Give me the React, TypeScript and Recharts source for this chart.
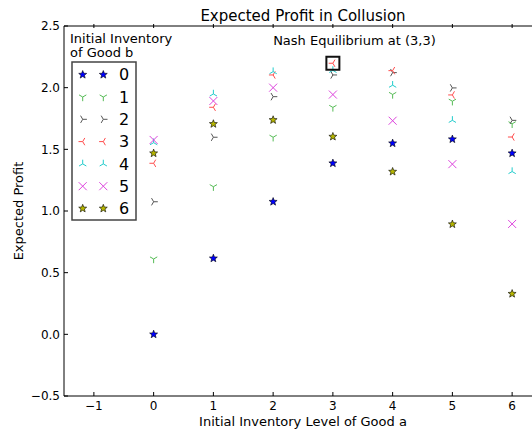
import { ScatterChart, Scatter, XAxis, YAxis, Legend, ReferenceDot } from 'recharts'

// initial inventory of good a (x) and expected profit for each inventory level of good b
const inventoryA = [0, 1, 2, 3, 4, 5, 6]
const profitB0 = [0.0, 0.616, 1.075, 1.387, 1.549, 1.582, 1.468]
const profitB1 = [0.611, 1.197, 1.598, 1.84, 1.945, 1.89, 1.707]
const profitB2 = [1.075, 1.598, 1.927, 2.103, 2.122, 1.998, 1.735]
const profitB3 = [1.387, 1.841, 2.103, 2.198, 2.138, 1.941, 1.6]
const profitB4 = [1.554, 1.949, 2.13, 2.14, 2.02, 1.735, 1.32]
const profitB5 = [1.576, 1.892, 2.0, 1.944, 1.732, 1.38, 0.895]
const profitB6 = [1.468, 1.706, 1.738, 1.603, 1.319, 0.893, 0.329]
const seriesLabels = ['0', '1', '2', '3', '4', '5', '6']

const xTicks = [-1, 0, 1, 2, 3, 4, 5, 6]
const yTicks = [-0.5, 0, 0.5, 1, 1.5, 2, 2.5]

const nashPoint = { x: 3, y: 2.198 }
const nashText = { x: 2, y: 2.35, label: 'Nash Equilibrium at (3,3)' }

const allSeries = [profitB0, profitB1, profitB2, profitB3, profitB4, profitB5, profitB6]

const markerStyles = [
  { kind: 'star', color: '#0000ff' },
  { kind: 'down', color: '#55bb55' },
  { kind: 'right', color: '#555555' },
  { kind: 'left', color: '#ff4d4d' },
  { kind: 'up', color: '#22cccc' },
  { kind: 'x', color: '#dd44dd' },
  { kind: 'star', color: '#b5b500' },
]

const FONT = "'DejaVu Sans', sans-serif"
const minus = (s: string) => s.replace('-', '\u2212')

function Marker({ kind, cx, cy, color }: { kind: string; cx: number; cy: number; color: string }) {
  if (cx == null || cy == null) return null
  if (kind === 'star') {
    const pts: string[] = []
    for (let i = 0; i < 10; i++) {
      const r = i % 2 === 0 ? 4.2 : 1.8
      const a = -Math.PI / 2 + (i * Math.PI) / 5
      pts.push(`${cx + r * Math.cos(a)},${cy + r * Math.sin(a)}`)
    }
    return <polygon points={pts.join(' ')} fill={color} stroke="#000" strokeWidth={0.6} />
  }
  if (kind === 'x') {
    const s = 4
    return (
      <path
        d={`M${cx - s},${cy - s}L${cx + s},${cy + s}M${cx - s},${cy + s}L${cx + s},${cy - s}`}
        stroke={color}
        strokeWidth={1}
      />
    )
  }
  const stemDeg: Record<string, number> = { down: 90, up: -90, left: 180, right: 0 }
  const base = stemDeg[kind]
  const r = 4.2
  const d = [base, base + 120, base - 120]
    .map((deg) => {
      const a = (deg * Math.PI) / 180
      return `M${cx},${cy}L${cx + r * Math.cos(a)},${cy + r * Math.sin(a)}`
    })
    .join('')
  return <path d={d} stroke={color} strokeWidth={1} fill="none" />
}

const BottomTick = (props: any) => {
  const { x, y, payload } = props
  const axisY = y - 4
  return (
    <g>
      <line x1={x} y1={axisY} x2={x} y2={axisY - 4} stroke="#000" />
      <text x={x} y={y} dy="0.8em" textAnchor="middle" fontSize={12} fill="#000" fontFamily={FONT}>
        {minus(String(payload.value))}
      </text>
    </g>
  )
}

const TopTick = (props: any) => {
  const { x, y } = props
  return <line x1={x} y1={y} x2={x} y2={y + 4} stroke="#000" />
}

const LeftTick = (props: any) => {
  const { x, y, payload } = props
  const axisX = x + 4
  return (
    <g>
      <line x1={axisX} y1={y} x2={axisX + 4} y2={y} stroke="#000" />
      <text x={x} y={y} dy="0.35em" textAnchor="end" fontSize={12} fill="#000" fontFamily={FONT}>
        {minus(Number(payload.value).toFixed(1))}
      </text>
    </g>
  )
}

function LegendBox() {
  return (
    <svg width={140} height={200} style={{ display: 'block', fontFamily: FONT }}>
      <text x={6} y={16.5} fontSize={13} fill="#000">Initial Inventory</text>
      <text x={6} y={30.5} fontSize={13} fill="#000">of Good b</text>
      <rect x={8} y={36} width={64} height={158} fill="#fff" stroke="#444" strokeWidth={1.5} />
      {markerStyles.map((m, i) => {
        const cy = 48.7 + 22.3 * i
        return (
          <g key={i}>
            <Marker kind={m.kind} cx={18.7} cy={cy} color={m.color} />
            <Marker kind={m.kind} cx={39.3} cy={cy} color={m.color} />
            <text x={55} y={cy} dy="0.36em" fontSize={16} fill="#000">
              {seriesLabels[i]}
            </text>
          </g>
        )
      })}
    </svg>
  )
}

export default function App() {
  return (
    <div style={{ width: 532, height: 430, overflow: 'hidden', background: '#fff' }}>
      <style>{'body{margin:0;overflow:hidden}'}</style>
      <ScatterChart
        width={550}
        height={430}
        margin={{ top: 0, right: 8, bottom: 0, left: 0 }}
        style={{ fontFamily: FONT }}
      >
        <XAxis
          xAxisId="top"
          orientation="top"
          type="number"
          dataKey="x"
          domain={[-1.5, 6.5]}
          ticks={xTicks}
          height={26}
          tickSize={0}
          tick={<TopTick />}
          axisLine={{ stroke: '#000' }}
          tickLine={false}
          allowDataOverflow
          label={{ value: 'Expected Profit in Collusion', position: 'center', dy: 3, fontSize: 15, fill: '#000' }}
        />
        <XAxis
          xAxisId="bottom"
          type="number"
          dataKey="x"
          domain={[-1.5, 6.5]}
          ticks={xTicks}
          height={34}
          tickSize={0}
          tickMargin={4}
          tick={<BottomTick />}
          axisLine={{ stroke: '#000' }}
          tickLine={false}
          allowDataOverflow
          label={{ value: 'Initial Inventory Level of Good a', position: 'center', dy: 8, fontSize: 13, fill: '#000' }}
        />
        <YAxis
          type="number"
          dataKey="y"
          domain={[-0.5, 2.5]}
          ticks={yTicks}
          width={64}
          tickSize={0}
          tickMargin={4}
          tick={<LeftTick />}
          axisLine={{ stroke: '#000' }}
          tickLine={false}
          allowDataOverflow
          label={{ value: 'Expected Profit', angle: -90, position: 'center', dx: -14, fontSize: 13, fill: '#000' }}
        />
        {allSeries.map((vals, i) => (
          <Scatter
            key={i}
            name={seriesLabels[i]}
            xAxisId="bottom"
            data={inventoryA.map((x, j) => ({ x, y: vals[j] }))}
            isAnimationActive={false}
            shape={(p: any) => (
              <Marker kind={markerStyles[i].kind} cx={p.cx} cy={p.cy} color={markerStyles[i].color} />
            )}
          />
        ))}
        <ReferenceDot
          xAxisId="bottom"
          x={nashPoint.x}
          y={nashPoint.y}
          ifOverflow="visible"
          shape={(p: any) => (
            <rect x={p.cx - 6.5} y={p.cy - 6.5} width={13} height={13} fill="none" stroke="#111" strokeWidth={2} />
          )}
        />
        <ReferenceDot
          xAxisId="bottom"
          x={nashText.x}
          y={nashText.y}
          ifOverflow="visible"
          shape={(p: any) => (
            <text x={p.cx} y={p.cy} fontSize={13} fill="#000" fontFamily={FONT}>
              {nashText.label}
            </text>
          )}
        />
        <Legend
          layout="vertical"
          align="center"
          verticalAlign="middle"
          wrapperStyle={{ left: 64, top: 26, width: 140 }}
          content={() => <LegendBox />}
        />
      </ScatterChart>
    </div>
  )
}
